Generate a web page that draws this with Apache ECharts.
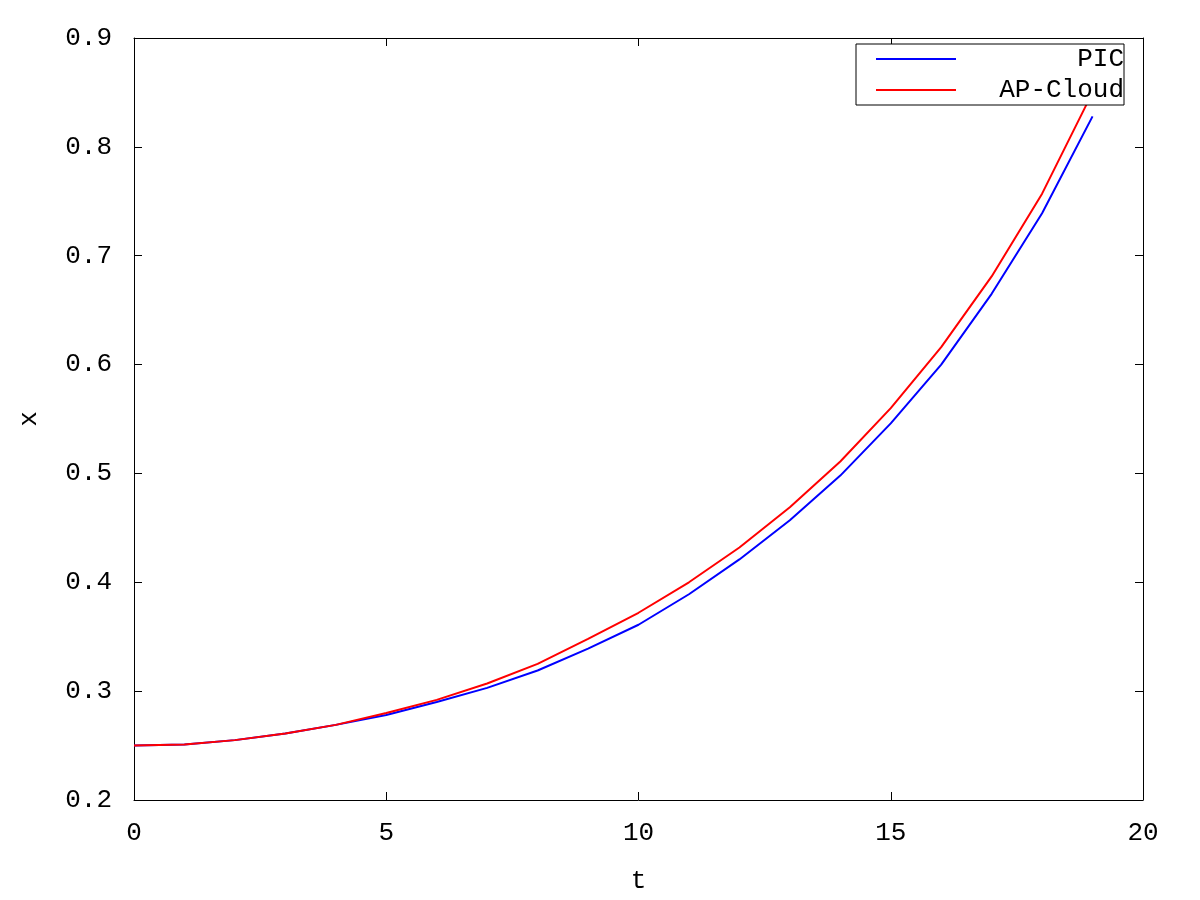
<!DOCTYPE html>
<html>
<head>
<meta charset="utf-8">
<script src="https://cdn.jsdelivr.net/npm/echarts@6/dist/echarts.min.js"></script>
<style>
  html, body { margin: 0; padding: 0; background: #fff; }
  #chart { width: 1200px; height: 900px; }
</style>
</head>
<body>
<div id="chart"></div>
<script>
// t steps
var tValues = [0, 1, 2, 3, 4, 5, 6, 7, 8, 9, 10, 11, 12, 13, 14, 15, 16, 17, 18, 19]
// PIC curve (blue)
var picValues = [0.250, 0.251, 0.255, 0.261, 0.269, 0.278, 0.290, 0.303, 0.319, 0.339,
  0.361, 0.389, 0.421, 0.457, 0.498, 0.546, 0.600, 0.665, 0.739, 0.828]
// AP-Cloud curve (red)
var apValues = [0.250, 0.251, 0.255, 0.261, 0.269, 0.280, 0.292, 0.307, 0.325, 0.348,
  0.372, 0.400, 0.432, 0.469, 0.511, 0.560, 0.616, 0.681, 0.757, 0.850]

var font = '"Liberation Mono", "DejaVu Sans Mono", monospace'

function pairs(ys) {
  return tValues.map(function (t, i) { return [t, ys[i]] })
}

// gnuplot style ticks: drawn inwards
function tick() {
  return { show: true, inside: true, length: 8, lineStyle: { color: '#000', width: 1 } }
}
function line() {
  return { show: true, onZero: false, lineStyle: { color: '#000', width: 1 } }
}

var chart = echarts.init(document.getElementById('chart'))

var option = {
  backgroundColor: '#fff',
  animation: false,
  grid: {
    left: 134,
    right: 57,
    top: 38,
    bottom: 100
  },
  legend: {
    orient: 'vertical',
    right: 76,
    top: 44,
    padding: [2, 0, 2, 20],
    itemGap: 5,
    itemWidth: 80,
    itemHeight: 2,
    itemTextGap: 5,
    icon: 'rect',
    borderColor: '#000',
    borderWidth: 1,
    backgroundColor: '#fff',
    formatter: function (name) { return '{a|' + name + '}' },
    textStyle: {
      fontFamily: font,
      fontSize: 26,
      color: '#000',
      rich: {
        a: { fontFamily: font, fontSize: 26, color: '#000', width: 163, align: 'right' }
      }
    },
    data: ['PIC', 'AP-Cloud']
  },
  xAxis: [
    {
      type: 'value',
      position: 'bottom',
      min: 0,
      max: 20,
      interval: 5,
      name: 't',
      nameLocation: 'middle',
      nameGap: 68,
      nameTextStyle: { fontFamily: font, fontSize: 26, color: '#000' },
      axisLine: line(),
      axisTick: tick(),
      splitLine: { show: false },
      axisLabel: { fontFamily: font, fontSize: 26, color: '#000', margin: 20 }
    },
    {
      type: 'value',
      position: 'top',
      min: 0,
      max: 20,
      interval: 5,
      axisLine: line(),
      axisTick: tick(),
      splitLine: { show: false },
      axisLabel: { show: false }
    }
  ],
  yAxis: [
    {
      type: 'value',
      position: 'left',
      min: 0.2,
      max: 0.9,
      interval: 0.1,
      name: 'x',
      nameLocation: 'middle',
      nameGap: 92,
      nameRotate: 90,
      nameTextStyle: { fontFamily: font, fontSize: 26, color: '#000' },
      axisLine: line(),
      axisTick: tick(),
      splitLine: { show: false },
      axisLabel: {
        fontFamily: font,
        fontSize: 26,
        color: '#000',
        margin: 22,
        formatter: function (v) { return v.toFixed(1) }
      }
    },
    {
      type: 'value',
      position: 'right',
      min: 0.2,
      max: 0.9,
      interval: 0.1,
      axisLine: line(),
      axisTick: tick(),
      splitLine: { show: false },
      axisLabel: { show: false }
    }
  ],
  series: [
    {
      name: 'PIC',
      type: 'line',
      color: '#0000ff',
      data: pairs(picValues),
      symbol: 'none',
      lineStyle: { color: '#0000ff', width: 2 }
    },
    {
      name: 'AP-Cloud',
      type: 'line',
      color: '#ff0000',
      data: pairs(apValues),
      symbol: 'none',
      lineStyle: { color: '#ff0000', width: 2 }
    }
  ]
}

chart.setOption(option)
</script>
</body>
</html>
